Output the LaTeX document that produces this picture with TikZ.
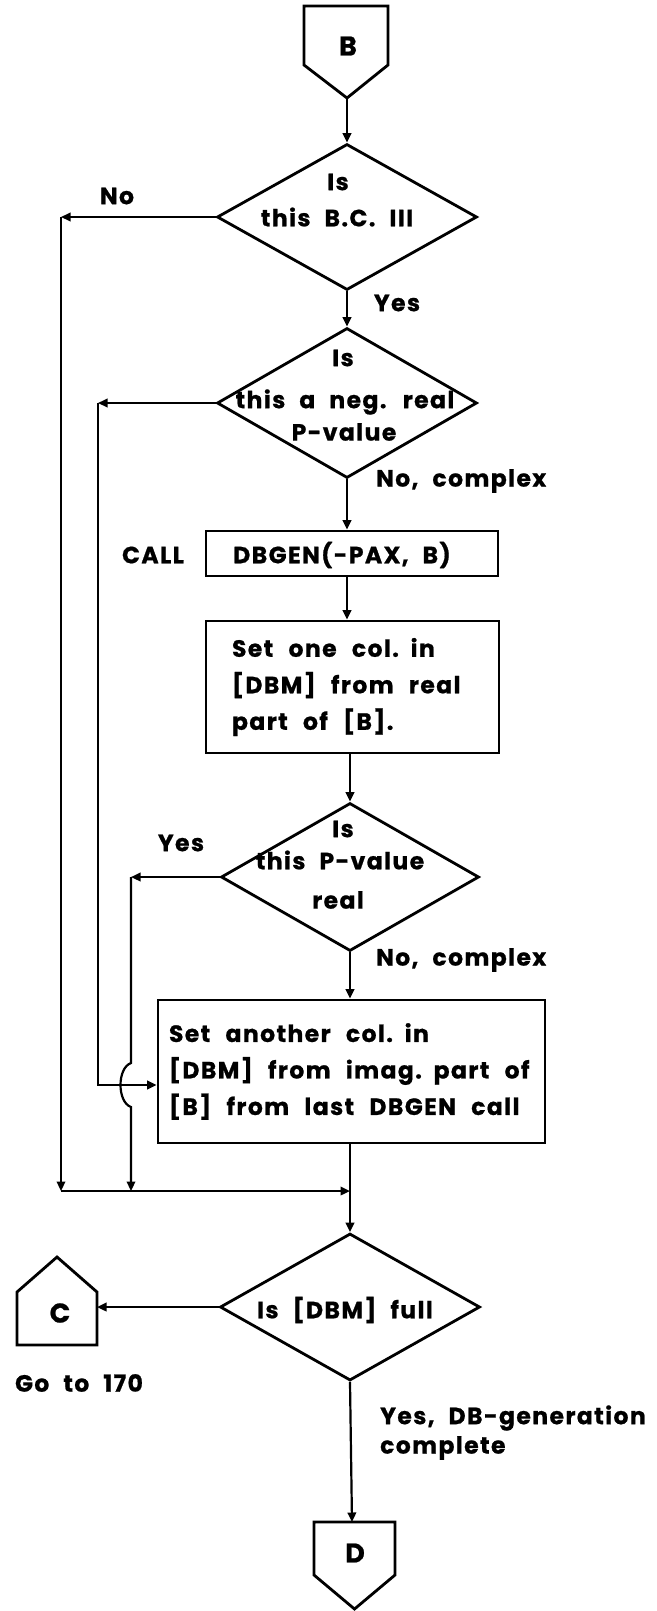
\documentclass[tikz,border=0pt]{standalone}
\usepackage{fontspec}
\setmainfont{Poppins}[LetterSpace=6, WordSpace=2.2, BoldFeatures={FakeBold=0.8}]
\usetikzlibrary{shapes.geometric,arrows.meta}
\newcommand{\wsp}{\spaceskip=0.65em plus 0.1em\relax}
\begin{document}
\begin{tikzpicture}[x=1pt,y=-1pt,
  shp/.style={draw, line width=2.8pt, line join=miter},
  dia/.style={shp, diamond, inner sep=0pt},
  box/.style={shp, rectangle, inner sep=0pt},
  txt/.style={font=\fontsize{23.5}{36.5}\selectfont\bfseries, inner sep=0pt},
  big/.style={font=\fontsize{27}{30}\selectfont\bfseries, inner sep=0pt},
  con/.style={line width=2.2pt},
  arr/.style={con, -{Triangle[length=9.5pt,width=8.5pt]}}]
\useasboundingbox (0,0) rectangle (656,1611);
% connector B
\draw[shp] (304,6) -- (388,6) -- (388,65) -- (347,98) -- (304,65) -- cycle;
\node[big] (Bl) at (348,46) {B};
\coordinate (Bt) at (347,98);
% diamond 1
\node[dia, minimum width=260pt, minimum height=146pt] (d1) at (347,217) {};
\node[txt] (d1a) at (338,182) {Is};
\node[txt] (d1b) at (337,217) {this B.C. III};
\node[txt] (no1) at (117,196) {No};
\node[txt] (yes1) at (397,303) {Yes};
% diamond 2
\node[dia, minimum width=260pt, minimum height=150pt] (d2) at (347,403) {};
\node[txt] (d2a) at (343,358) {Is};
\node[txt] (d2b) at (345,402) {this a neg. real};
\node[txt] (d2c) at (344,432) {P-value};
\node[txt, anchor=west] (nc1) at (376,481) {No, complex};
% CALL box
\node[box, minimum width=292pt, minimum height=45pt] (call) at (352,553.5) {};
\node[txt] (callt) at (342,555) {DBGEN(-PAX, B)};
\node[txt] (calll) at (153,555) {CALL};
% box 1
\node[box, txt, minimum width=293pt, minimum height=132pt, text width=241pt, inner xsep=26pt, align=left] (b1) at (352.5,687) {\wsp Set one col. in\\{[DBM]} from real\\part of [B].};
% diamond 3
\node[dia, minimum width=258pt, minimum height=148pt] (d3) at (350,877) {};
\node[txt] (d3a) at (343,829) {Is};
\node[txt] (d3b) at (340,860) {this P-value};
\node[txt] (d3c) at (338,900) {real};
\node[txt] (yes3) at (181,843) {Yes};
\node[txt, anchor=west] (nc2) at (376,960) {No, complex};
% box 2
\node[box, txt, minimum width=387pt, minimum height=143pt, text width=365pt, inner xsep=11pt, align=left] (b2) at (351.5,1071.5) {\wsp Set another col. in\\{[DBM]} from imag. part of\\{[B]} from last DBGEN call};
% diamond 4
\node[dia, minimum width=260pt, minimum height=147pt] (d4) at (350,1307) {};
\node[txt] (d4a) at (345,1310) {Is [DBM] full};
% connector C
\draw[shp] (17,1345) -- (17,1292) -- (57,1257) -- (97,1292) -- (97,1345) -- cycle;
\node[big] (Cl) at (60,1313) {C};
\coordinate (Cr) at (97,1307);
\node[txt] (go) at (79,1383) {Go to 170};
\node[txt, anchor=west] (yes4) at (380,1418) {Yes, DB-generation};
\node[txt, anchor=west] (cmp) at (380,1448) {complete};
% connector D
\draw[shp] (314,1522) -- (395,1522) -- (395,1575) -- (354.5,1609) -- (314,1575) -- cycle;
\node[big] (Dl) at (355,1553) {D};
\coordinate (Dt) at (352,1522);
% routing points
\coordinate (o1) at (61,217);
\coordinate (o2) at (61,1191);
\coordinate (i1) at (98,403);
\coordinate (i2) at (98,1085);
\coordinate (y1) at (131,877);
\coordinate (h1) at (131,1063);
\coordinate (h2) at (131,1107);
\coordinate (y2) at (131,1191);
\coordinate (m) at (350,1191);
% connectors
\draw[arr] (Bt) -- (d1.north);
\draw[arr] (d1.south) -- (d2.north);
\draw[arr] (d1.west) -- (o1);
\draw[arr] (o1) -- (o2);
\draw[arr] (d2.south) -- (d2.south |- call.north);
\draw[arr] (call.south -| d2.south) -- (d2.south |- b1.north);
\draw[arr] (b1.south -| d3.north) -- (d3.north);
\draw[arr] (d2.west) -- (i1);
\draw[arr] (i1) -- (i2) -- (i2 -| b2.west);
\draw[arr] (d3.west) -- (y1);
\draw[arr] (y1) -- (h1) .. controls (117,1068) and (117,1102) .. (h2) -- (y2);
\draw[arr] (d3.south) -- (d3.south |- b2.north);
\draw[arr] (o2) -- (m);
\draw[arr] (b2.south -| d4.north) -- (d4.north);
\draw[arr] (d4.west) -- (Cr);
\draw[arr] (d4.south) -- (Dt);
\end{tikzpicture}
\end{document}
